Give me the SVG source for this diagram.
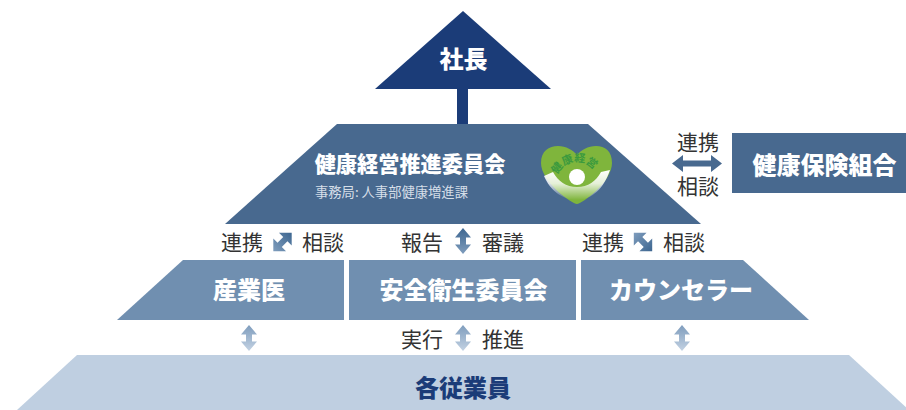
<svg xmlns="http://www.w3.org/2000/svg" width="906" height="410" viewBox="0 0 906 410">
<style>
text{font-family:"Noto Sans CJK JP","Noto Sans",sans-serif}
.t{font-weight:900;fill:#fff;font-size:24px;text-anchor:middle}
.l{fill:#333;font-size:21px;text-anchor:middle}
</style>
<defs>
<linearGradient id="dk" x1="0" y1="0" x2="0" y2="1"><stop offset="0" stop-color="#3d6690"/><stop offset="1" stop-color="#7f9dbd"/></linearGradient>
<linearGradient id="dkr" x1="0" y1="1" x2="0" y2="0"><stop offset="0" stop-color="#3d6690"/><stop offset="1" stop-color="#7f9dbd"/></linearGradient>
<linearGradient id="lt" x1="0" y1="0" x2="0" y2="1"><stop offset="0" stop-color="#7f9dbd"/><stop offset="1" stop-color="#c3d2e3"/></linearGradient>
<linearGradient id="w" x1="0" y1="0" x2="0" y2="1"><stop offset="0" stop-color="#fff"/><stop offset=".45" stop-color="#fff" stop-opacity=".8"/><stop offset="1" stop-color="#fff" stop-opacity="0"/></linearGradient>
<path id="ud" d="M0-13 L8-3.500 L3-3.500 L3 3.500 L8 3.500 L0 13 L-8 3.500 L-3 3.500 L-3-3.500 L-8-3.500Z"/>
<path id="dg" d="M0-13 L9-4 L3-4 L3 4 L9 4 L0 13 L-9 4 L-3 4 L-3-4 L-9-4Z"/>
<path id="arc" d="M557.500 175 A21 21 0 0 1 596.500 175"/>
</defs>
<g id="president"><polygon points="463,11 551,89 375,89" fill="#1b3c78"/><rect x="457" y="89" width="11" height="35" fill="#1b3c78"/><text class="t" x="463.500" y="68">社長</text></g>
<g id="committee"><polygon points="337,124 588,124 701,224 225,224" fill="#48698f"/>
<text class="t" x="410" y="172" style="font-size:21.200px">健康経営推進委員会</text>
<text x="315" y="197" font-size="13.300" fill="#d5dee8">事務局: 人事部健康増進課</text></g>
<g id="logo">
<path d="M577 204 C572 204 541 182 541 163 C541 151 549 146 558 146 C566 146 573 150 577 155 C581 150 588 146 596 146 C605 146 612 151 612 163 C612 182 582 204 577 204Z" fill="#7fb53c"/>
<path d="M544 176 L553 172 C558 181 566 187 577 187 C588 187 596 181 601 172 L610 170 C604 188 592 200 577 200 C562 200 550 190 544 176Z" fill="url(#w)"/>
<circle cx="577" cy="177" r="8" fill="#fff"/>
<text font-size="11" font-weight="700" fill="#3b9a3e"><textPath href="#arc">健康経営</textPath></text></g>
<g id="kenpo"><rect x="732" y="133" width="174" height="60" fill="#48698f"/><text class="t" x="824.500" y="174">健康保険組合</text></g>
<g id="doctor"><polygon points="183,260 344,260 344,320 117,320" fill="#708fb0"/><text class="t" x="249" y="299">産業医</text></g>
<g id="safety"><rect x="349" y="260" width="227" height="60" fill="#708fb0"/><text class="t" x="463.500" y="299">安全衛生委員会</text></g>
<g id="counselor"><polygon points="581,260 743,260 809,320 581,320" fill="#708fb0"/><text class="t" x="681" y="299">カウンセラー</text></g>
<g id="staff"><polygon points="77,355 849,355 909,410 17,410" fill="#bfcfe1"/><text class="t" x="463" y="397" style="fill:#1b3c78">各従業員</text></g>
<g id="connectors">
<path d="M672 163.500 L683 155 L683 160.500 L711 160.500 L711 155 L722 163.500 L711 172 L711 166.500 L683 166.500 L683 172Z" fill="#48698f"/>
<use href="#ud" x="463" y="241" fill="url(#dk)"/>
<use href="#ud" x="249" y="338" fill="url(#lt)"/>
<use href="#ud" x="463" y="338" fill="url(#lt)"/>
<use href="#ud" x="682" y="338" fill="url(#lt)"/>
<use href="#dg" transform="translate(282.500 242) rotate(45)" fill="url(#dk)"/>
<use href="#dg" transform="translate(643 242) rotate(-45)" fill="url(#dkr)"/>
</g>
<g id="labels">
<text class="l" x="698" y="150">連携</text><text class="l" x="698" y="194">相談</text>
<text class="l" x="242" y="250">連携</text><text class="l" x="323" y="250">相談</text>
<text class="l" x="422" y="250">報告</text><text class="l" x="503" y="250">審議</text>
<text class="l" x="603" y="250">連携</text><text class="l" x="684" y="250">相談</text>
<text class="l" x="422" y="347">実行</text><text class="l" x="503" y="347">推進</text>
</g>
</svg>
